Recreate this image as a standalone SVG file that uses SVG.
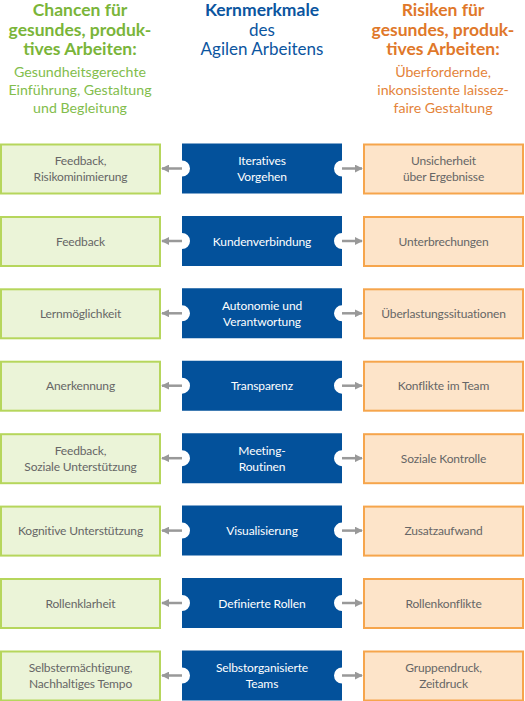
<svg xmlns="http://www.w3.org/2000/svg" width="525" height="701" viewBox="0 0 525 701">
<defs>
<style>
.t{font-family:Lato,"Noto Sans",sans-serif;text-anchor:middle}
.h{font-size:17.5px;font-weight:bold}
.s{font-size:14.2px}
.g{fill:#7ab539}
.g2{fill:#82bd4c}
.o{fill:#e0782a}
.o2{fill:#e4843a}
.b{fill:#0b559f}
.lb{fill:#ebf4d8;stroke:#b6d65c;stroke-width:2}
.rb{fill:#fde4c9;stroke:#f6a54c;stroke-width:2}
.cb{fill:#03519b}
.bt{font-size:12px;fill:#666;letter-spacing:-0.15px}
.ct{font-size:12px;fill:#fff;letter-spacing:-0.1px}
.ar{stroke:#999;stroke-width:2.5;fill:none}
</style>
<marker id="ah" viewBox="0 0 10 10" refX="9" refY="5" markerWidth="3.2" markerHeight="3.2" orient="auto" markerUnits="strokeWidth">
<path d="M0,0 L10,5 L0,10 Z" fill="#999"/>
</marker>
</defs>
<rect width="525" height="701" fill="#fff"/>
<g id="header-left" class="t">
<text x="80" y="16" class="h g">Chancen für</text>
<text x="80" y="36" class="h g">gesundes, produk-</text>
<text x="80" y="55" class="h g">tives Arbeiten:</text>
<text x="80" y="77" class="s g2">Gesundheitsgerechte</text>
<text x="80" y="95" class="s g2">Einführung, Gestaltung</text>
<text x="80" y="113" class="s g2">und Begleitung</text>
</g>
<g id="header-center" class="t">
<text x="262" y="16" class="h b">Kernmerkmale</text>
<text x="262" y="36" class="b" style="font-size:17px">des</text>
<text x="262" y="55" class="b" style="font-size:17px">Agilen Arbeitens</text>
</g>
<g id="header-right" class="t">
<text x="443" y="16" class="h o">Risiken für</text>
<text x="443" y="36" class="h o">gesundes, produk-</text>
<text x="443" y="55" class="h o">tives Arbeiten:</text>
<text x="443" y="77" class="s o2">Überfordernde,</text>
<text x="443" y="95" class="s o2">inkonsistente laissez-</text>
<text x="443" y="113" class="s o2">faire Gestaltung</text>
</g>
<g id="connectors">
<line class="ar" x1="182" y1="168.5" x2="162" y2="168.5" marker-end="url(#ah)"/>
<line class="ar" x1="342" y1="168.5" x2="362" y2="168.5" marker-end="url(#ah)"/>
<line class="ar" x1="182" y1="241" x2="162" y2="241" marker-end="url(#ah)"/>
<line class="ar" x1="342" y1="241" x2="362" y2="241" marker-end="url(#ah)"/>
<line class="ar" x1="182" y1="313.3" x2="162" y2="313.3" marker-end="url(#ah)"/>
<line class="ar" x1="342" y1="313.3" x2="362" y2="313.3" marker-end="url(#ah)"/>
<line class="ar" x1="182" y1="385.7" x2="162" y2="385.7" marker-end="url(#ah)"/>
<line class="ar" x1="342" y1="385.7" x2="362" y2="385.7" marker-end="url(#ah)"/>
<line class="ar" x1="182" y1="458.2" x2="162" y2="458.2" marker-end="url(#ah)"/>
<line class="ar" x1="342" y1="458.2" x2="362" y2="458.2" marker-end="url(#ah)"/>
<line class="ar" x1="182" y1="530.6" x2="162" y2="530.6" marker-end="url(#ah)"/>
<line class="ar" x1="342" y1="530.6" x2="362" y2="530.6" marker-end="url(#ah)"/>
<line class="ar" x1="182" y1="603" x2="162" y2="603" marker-end="url(#ah)"/>
<line class="ar" x1="342" y1="603" x2="362" y2="603" marker-end="url(#ah)"/>
<line class="ar" x1="182" y1="675.5" x2="162" y2="675.5" marker-end="url(#ah)"/>
<line class="ar" x1="342" y1="675.5" x2="362" y2="675.5" marker-end="url(#ah)"/>
</g>
<!-- Row 1 -->
<g id="l1" class="t"><rect class="lb" x="1" y="144.5" width="159" height="49"/><text class="bt" x="80.5" y="165">Feedback,</text><text class="bt" x="80.5" y="181">Risikominimierung</text></g>
<g id="c1" class="t"><path class="cb" d="M182,143.5H342V160.5A8,8 0 0 0 342,176.5V193.5H182V176.5A8,8 0 0 0 182,160.5Z"/><text class="ct" x="262" y="165">Iteratives</text><text class="ct" x="262" y="181">Vorgehen</text></g>
<g id="r1" class="t"><rect class="rb" x="364" y="144.5" width="159" height="49"/><text class="bt" x="443.5" y="165">Unsicherheit</text><text class="bt" x="443.5" y="181">über Ergebnisse</text></g>
<!-- Row 2 -->
<g id="l2" class="t"><rect class="lb" x="1" y="217" width="159" height="49"/><text class="bt" x="80.5" y="245.5">Feedback</text></g>
<g id="c2" class="t"><path class="cb" d="M182,216H342V233A8,8 0 0 0 342,249V266H182V249A8,8 0 0 0 182,233Z"/><text class="ct" x="262" y="245.5">Kundenverbindung</text></g>
<g id="r2" class="t"><rect class="rb" x="364" y="217" width="159" height="49"/><text class="bt" x="443.5" y="245.5">Unterbrechungen</text></g>
<!-- Row 3 -->
<g id="l3" class="t"><rect class="lb" x="1" y="289.3" width="159" height="49"/><text class="bt" x="80.5" y="317.8">Lernmöglichkeit</text></g>
<g id="c3" class="t"><path class="cb" d="M182,288.3H342V305.3A8,8 0 0 0 342,321.3V338.3H182V321.3A8,8 0 0 0 182,305.3Z"/><text class="ct" x="262" y="309.8">Autonomie und</text><text class="ct" x="262" y="325.8">Verantwortung</text></g>
<g id="r3" class="t"><rect class="rb" x="364" y="289.3" width="159" height="49"/><text class="bt" x="443.5" y="317.8">Überlastungssituationen</text></g>
<!-- Row 4 -->
<g id="l4" class="t"><rect class="lb" x="1" y="361.7" width="159" height="49"/><text class="bt" x="80.5" y="390.2">Anerkennung</text></g>
<g id="c4" class="t"><path class="cb" d="M182,360.7H342V377.7A8,8 0 0 0 342,393.7V410.7H182V393.7A8,8 0 0 0 182,377.7Z"/><text class="ct" x="262" y="390.2">Transparenz</text></g>
<g id="r4" class="t"><rect class="rb" x="364" y="361.7" width="159" height="49"/><text class="bt" x="443.5" y="390.2">Konflikte im Team</text></g>
<!-- Row 5 -->
<g id="l5" class="t"><rect class="lb" x="1" y="434.2" width="159" height="49"/><text class="bt" x="80.5" y="454.7">Feedback,</text><text class="bt" x="80.5" y="470.7">Soziale Unterstützung</text></g>
<g id="c5" class="t"><path class="cb" d="M182,433.2H342V450.2A8,8 0 0 0 342,466.2V483.2H182V466.2A8,8 0 0 0 182,450.2Z"/><text class="ct" x="262" y="454.7">Meeting-</text><text class="ct" x="262" y="470.7">Routinen</text></g>
<g id="r5" class="t"><rect class="rb" x="364" y="434.2" width="159" height="49"/><text class="bt" x="443.5" y="462.7">Soziale Kontrolle</text></g>
<!-- Row 6 -->
<g id="l6" class="t"><rect class="lb" x="1" y="506.6" width="159" height="49"/><text class="bt" x="80.5" y="535.1">Kognitive Unterstützung</text></g>
<g id="c6" class="t"><path class="cb" d="M182,505.6H342V522.6A8,8 0 0 0 342,538.6V555.6H182V538.6A8,8 0 0 0 182,522.6Z"/><text class="ct" x="262" y="535.1">Visualisierung</text></g>
<g id="r6" class="t"><rect class="rb" x="364" y="506.6" width="159" height="49"/><text class="bt" x="443.5" y="535.1">Zusatzaufwand</text></g>
<!-- Row 7 -->
<g id="l7" class="t"><rect class="lb" x="1" y="579" width="159" height="49"/><text class="bt" x="80.5" y="607.5">Rollenklarheit</text></g>
<g id="c7" class="t"><path class="cb" d="M182,578H342V595A8,8 0 0 0 342,611V628H182V611A8,8 0 0 0 182,595Z"/><text class="ct" x="262" y="607.5">Definierte Rollen</text></g>
<g id="r7" class="t"><rect class="rb" x="364" y="579" width="159" height="49"/><text class="bt" x="443.5" y="607.5">Rollenkonflikte</text></g>
<!-- Row 8 -->
<g id="l8" class="t"><rect class="lb" x="1" y="651.5" width="159" height="49"/><text class="bt" x="80.5" y="672">Selbstermächtigung,</text><text class="bt" x="80.5" y="688">Nachhaltiges Tempo</text></g>
<g id="c8" class="t"><path class="cb" d="M182,650.5H342V667.5A8,8 0 0 0 342,683.5V700.5H182V683.5A8,8 0 0 0 182,667.5Z"/><text class="ct" x="262" y="672">Selbstorganisierte</text><text class="ct" x="262" y="688">Teams</text></g>
<g id="r8" class="t"><rect class="rb" x="364" y="651.5" width="159" height="49"/><text class="bt" x="443.5" y="672">Gruppendruck,</text><text class="bt" x="443.5" y="688">Zeitdruck</text></g>
</svg>
